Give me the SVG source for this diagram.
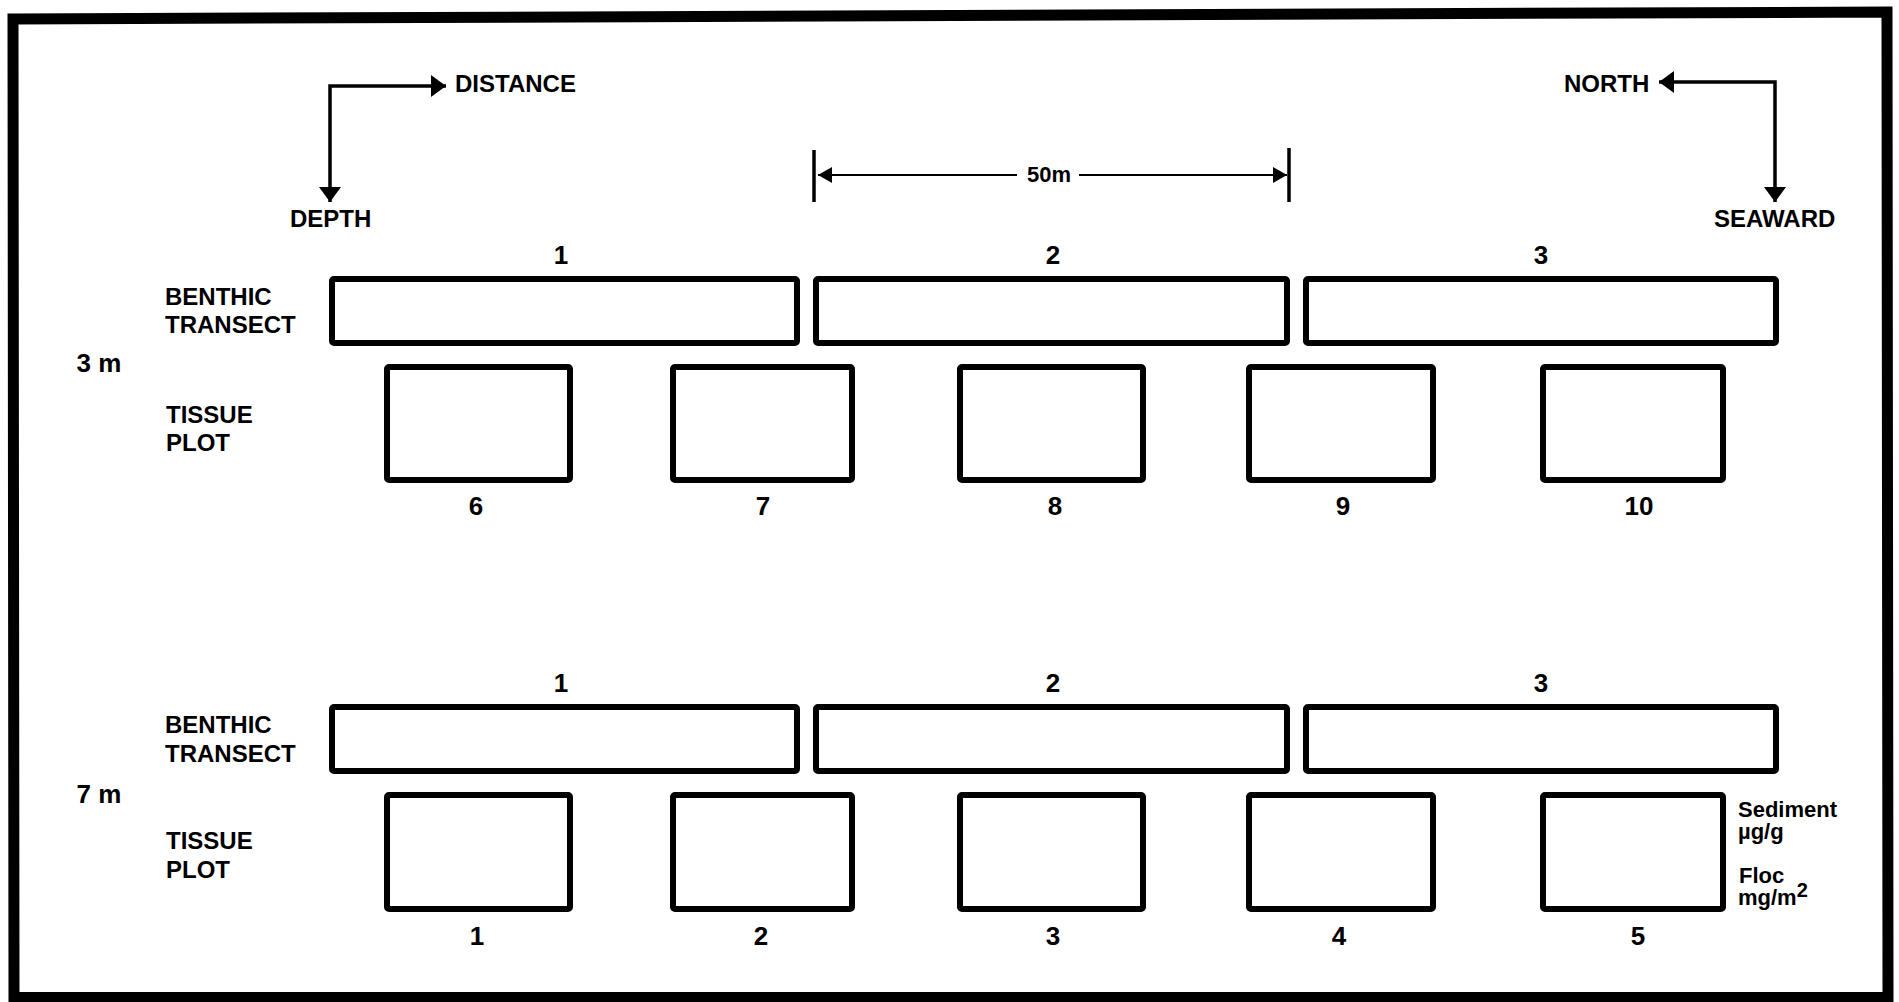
<svg xmlns="http://www.w3.org/2000/svg" width="1899" height="1002" viewBox="0 0 1899 1002">
<style>
text{font-family:"Liberation Sans",Arial,sans-serif;font-weight:bold;fill:#000}
.lbl{font-size:24px}
.num{font-size:26px;text-anchor:middle}
.sm{font-size:22px}
.box{fill:none;stroke:#000;stroke-width:6;stroke-linejoin:round}
.ln{fill:none;stroke:#000;stroke-width:3.5}
.thin{fill:none;stroke:#000;stroke-width:2.2}
</style>
<defs>
<marker id="ah" viewBox="0 0 15 22" refX="15" refY="11" markerWidth="15" markerHeight="22" markerUnits="userSpaceOnUse" orient="auto-start-reverse"><path d="M0,0 L15,11 L0,22 z" fill="#000"/></marker>
<marker id="ahs" viewBox="0 0 14 16" refX="14" refY="8" markerWidth="14" markerHeight="16" markerUnits="userSpaceOnUse" orient="auto-start-reverse"><path d="M0,0 L14,8 L0,16 z" fill="#000"/></marker>
</defs>
<rect width="1899" height="1002" fill="#fff"/>
<path d="M13,19 L1887,12 L1888,997.5 L14,997.5 Z" fill="none" stroke="#000" stroke-width="11" stroke-linejoin="miter"/>

<g id="connectors">
<path class="ln" d="M330,202 L330,86 L446,86" marker-start="url(#ah)" marker-end="url(#ah)"/>
<path class="ln" d="M1775,202 L1775,82 L1659,82" marker-start="url(#ah)" marker-end="url(#ah)"/>
<line class="ln" x1="814" y1="150" x2="814" y2="202"/>
<line class="ln" x1="1289" y1="148" x2="1289" y2="202"/>
<path class="thin" d="M818,175 L1017,175" marker-start="url(#ahs)"/>
<path class="thin" d="M1079,175 L1287,175" marker-end="url(#ahs)"/>
</g>

<g id="legend">
<text class="lbl" x="455" y="92">DISTANCE</text>
<text class="lbl" x="290" y="227">DEPTH</text>
<text class="lbl" x="1564" y="92">NORTH</text>
<text class="lbl" x="1714" y="227">SEAWARD</text>
<text class="sm" x="1027" y="182">50m</text>
</g>

<g id="row-3m">
<text class="lbl" x="165" y="305">BENTHIC</text>
<text class="lbl" x="165" y="333">TRANSECT</text>
<text class="num" x="99" y="372">3 m</text>
<text class="lbl" x="166" y="423">TISSUE</text>
<text class="lbl" x="166" y="451">PLOT</text>
</g>
<g id="transect-3m-1"><rect class="box" x="332" y="279" width="465" height="64" rx="2"/><text class="num" x="561" y="264">1</text></g>
<g id="transect-3m-2"><rect class="box" x="816" y="279" width="471" height="64" rx="2"/><text class="num" x="1053" y="264">2</text></g>
<g id="transect-3m-3"><rect class="box" x="1306" y="279" width="470" height="64" rx="2"/><text class="num" x="1541" y="264">3</text></g>
<g id="plot-6"><rect class="box" x="387" y="367" width="183" height="113" rx="2"/><text class="num" x="476" y="515">6</text></g>
<g id="plot-7"><rect class="box" x="673" y="367" width="179" height="113" rx="2"/><text class="num" x="763" y="515">7</text></g>
<g id="plot-8"><rect class="box" x="960" y="367" width="183" height="113" rx="2"/><text class="num" x="1055" y="515">8</text></g>
<g id="plot-9"><rect class="box" x="1249" y="367" width="184" height="113" rx="2"/><text class="num" x="1343" y="515">9</text></g>
<g id="plot-10"><rect class="box" x="1543" y="367" width="180" height="113" rx="2"/><text class="num" x="1639" y="515">10</text></g>

<g id="row-7m">
<text class="lbl" x="165" y="733">BENTHIC</text>
<text class="lbl" x="165" y="762">TRANSECT</text>
<text class="num" x="99" y="803">7 m</text>
<text class="lbl" x="166" y="849">TISSUE</text>
<text class="lbl" x="166" y="878">PLOT</text>
</g>
<g id="transect-7m-1"><rect class="box" x="332" y="707" width="465" height="64" rx="2"/><text class="num" x="561" y="692">1</text></g>
<g id="transect-7m-2"><rect class="box" x="816" y="707" width="471" height="64" rx="2"/><text class="num" x="1053" y="692">2</text></g>
<g id="transect-7m-3"><rect class="box" x="1306" y="707" width="470" height="64" rx="2"/><text class="num" x="1541" y="692">3</text></g>
<g id="plot-1"><rect class="box" x="387" y="795" width="183" height="114" rx="2"/><text class="num" x="477" y="945">1</text></g>
<g id="plot-2"><rect class="box" x="673" y="795" width="179" height="114" rx="2"/><text class="num" x="761" y="945">2</text></g>
<g id="plot-3"><rect class="box" x="960" y="795" width="183" height="114" rx="2"/><text class="num" x="1053" y="945">3</text></g>
<g id="plot-4"><rect class="box" x="1249" y="795" width="184" height="114" rx="2"/><text class="num" x="1339" y="945">4</text></g>
<g id="plot-5"><rect class="box" x="1543" y="795" width="180" height="114" rx="2"/><text class="num" x="1638" y="945">5</text></g>

<g id="units">
<text class="sm" x="1738" y="817">Sediment</text>
<text class="sm" x="1738" y="839">µg/g</text>
<text class="sm" x="1739" y="883">Floc</text>
<text class="sm" x="1738" y="905">mg/m<tspan dy="-8" font-size="20">2</tspan></text>
</g>
</svg>
